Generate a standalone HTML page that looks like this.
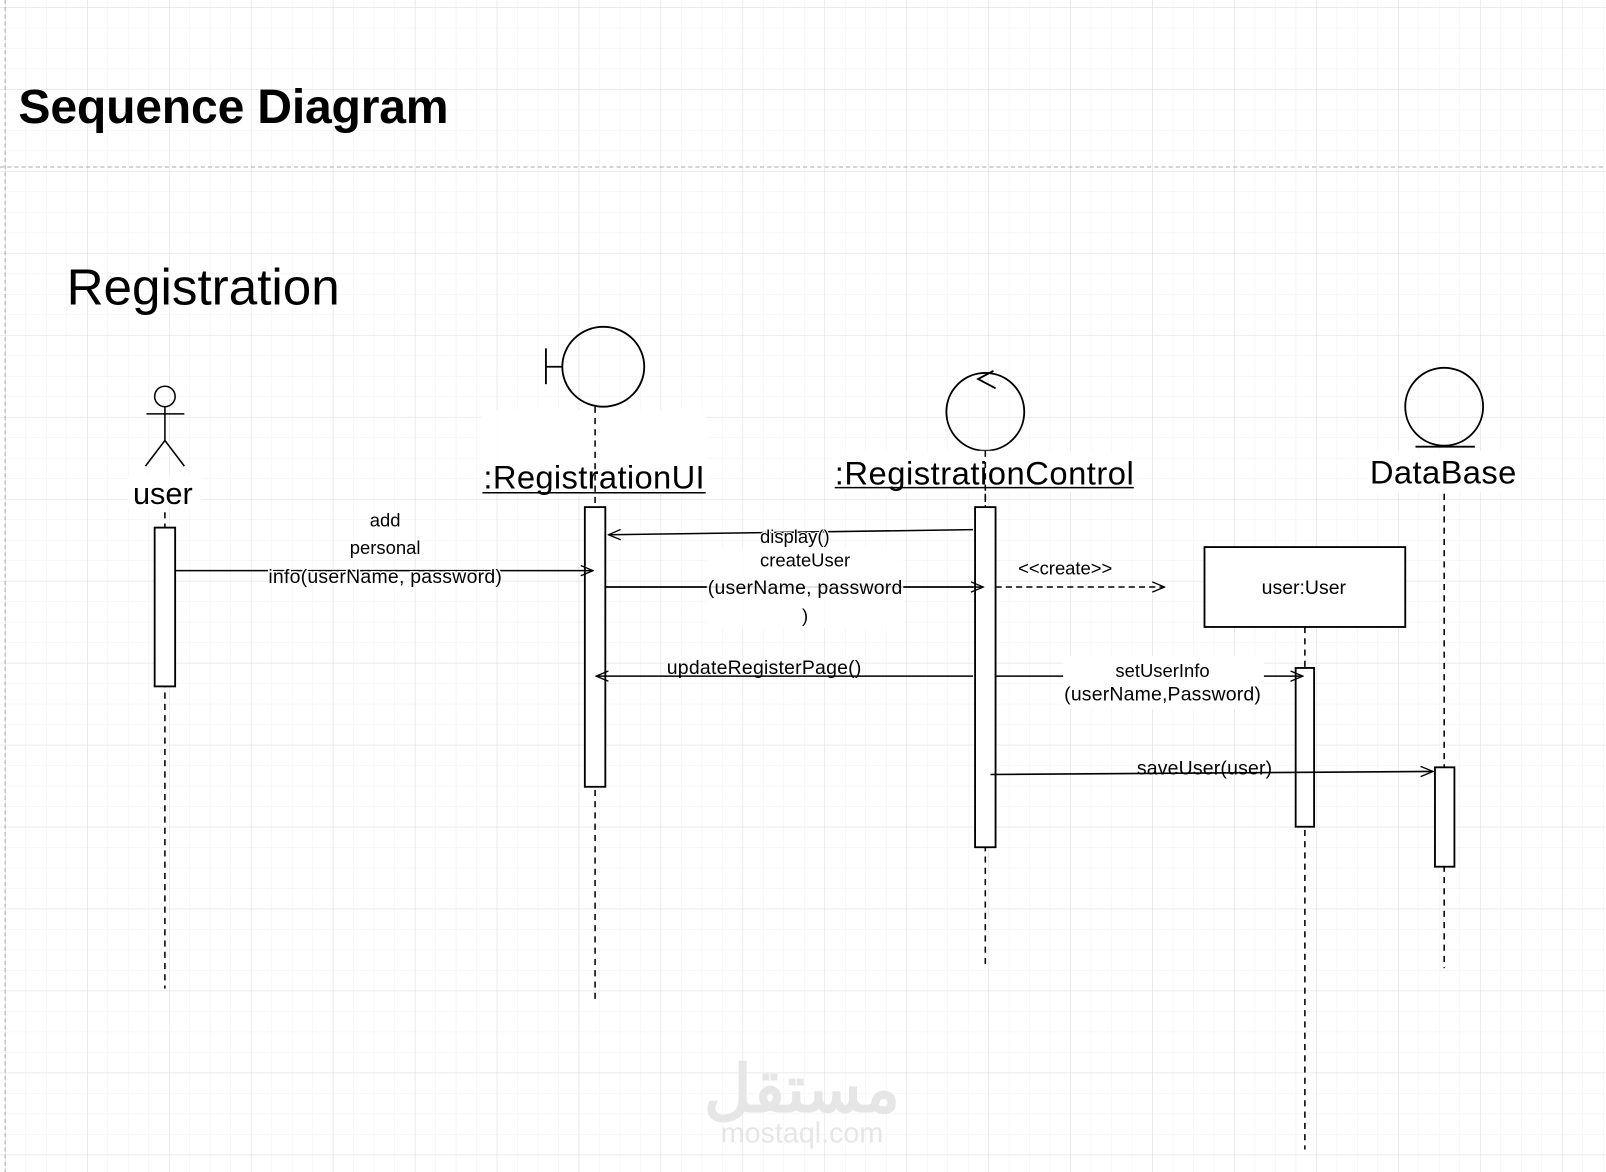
<!DOCTYPE html>
<html><head><meta charset="utf-8"><style>
html,body{margin:0;padding:0;background:#fff;}
svg{display:block;}
text{font-family:"Liberation Sans",Arial,sans-serif;fill:#000;}
</style></head><body>
<svg width="1606" height="1172" viewBox="0 0 1568 1144" preserveAspectRatio="none" xmlns="http://www.w3.org/2000/svg">
<defs>
<pattern id="minor" width="20" height="20" patternUnits="userSpaceOnUse" x="5" y="7">
<path d="M0 0H20M0 0V20" stroke="#f0f0f0" stroke-width="1" fill="none"/>
</pattern>
<pattern id="major" width="80" height="80" patternUnits="userSpaceOnUse" x="5" y="7">
<path d="M0 0H80M0 0V80" stroke="#dddddd" stroke-width="1" fill="none"/>
</pattern>
<marker id="ar" markerWidth="14" markerHeight="12" refX="13" refY="6" orient="auto" markerUnits="userSpaceOnUse">
<path d="M1 1L13 6L1 11" fill="none" stroke="#000" stroke-width="1.3"/>
</marker>
</defs>
<rect width="1568" height="1144" fill="#fff"/>
<rect width="1568" height="1144" fill="url(#minor)"/>
<rect width="1568" height="1144" fill="url(#major)"/>
<line x1="5" y1="0" x2="5" y2="1144" stroke="#aaa" stroke-dasharray="4 3"/>
<line x1="0" y1="163" x2="1568" y2="163" stroke="#aaa" stroke-dasharray="4 3"/>

<text x="18" y="120" font-size="47" font-weight="bold" textLength="420">Sequence Diagram</text>
<text x="65" y="297" font-size="50">Registration</text>

<!-- actor -->
<g stroke="#000" stroke-width="1.5" fill="none">
<circle cx="161" cy="387" r="10"/>
<line x1="161" y1="397" x2="161" y2="430"/>
<line x1="143" y1="404" x2="180" y2="404"/>
<line x1="161" y1="430" x2="142" y2="455"/>
<line x1="161" y1="430" x2="180" y2="455"/>
</g>
<rect x="125" y="464" width="72" height="32" fill="#fff"/>
<text x="159" y="492" font-size="30" text-anchor="middle">user</text>

<!-- boundary -->
<g stroke="#000" stroke-width="1.8" fill="none">
<ellipse cx="589" cy="358" rx="40" ry="39"/>
<line x1="533" y1="340" x2="533" y2="375"/>
<line x1="533" y1="358" x2="549" y2="358"/>
</g>
<rect x="470" y="400" width="220" height="80" fill="#fff" opacity="0.9"/>
<text x="580" y="477" font-size="32" text-anchor="middle" textLength="216">:RegistrationUI</text>
<line x1="471" y1="481" x2="689" y2="481" stroke="#000" stroke-width="1.5"/>

<!-- control -->
<g stroke="#000" stroke-width="1.8" fill="none">
<circle cx="962" cy="402" r="38"/>
<path d="M970 362L955 370L972 379"/>
</g>
<rect x="812" y="440" width="298" height="40" fill="#fff" opacity="0.9"/>
<text x="961" y="473" font-size="32" text-anchor="middle" textLength="292">:RegistrationControl</text>
<line x1="815" y1="476" x2="1107" y2="476" stroke="#000" stroke-width="1.5"/>

<!-- entity -->
<g stroke="#000" stroke-width="1.8" fill="none">
<circle cx="1410" cy="397" r="38"/>
<line x1="1382" y1="436" x2="1440" y2="436"/>
</g>
<rect x="1335" y="440" width="150" height="40" fill="#fff" opacity="0.9"/>
<text x="1409" y="472" font-size="32" text-anchor="middle" textLength="143">DataBase</text>

<!-- lifelines -->
<g stroke="#000" stroke-width="1.5" stroke-dasharray="6 5" fill="none">
<line x1="161" y1="500" x2="161" y2="965"/>
<line x1="581" y1="397" x2="581" y2="978"/>
<line x1="962" y1="440" x2="962" y2="945"/>
<line x1="962" y1="482" x2="962" y2="495"/>
<line x1="1410" y1="482" x2="1410" y2="945"/>
<line x1="1274" y1="612" x2="1274" y2="1122"/>
</g>

<!-- activations -->
<g stroke="#000" stroke-width="1.8" fill="#fff">
<rect x="151" y="515" width="20" height="155"/>
<rect x="571" y="495" width="20" height="273"/>
<rect x="952" y="495" width="20" height="332"/>
<rect x="1265" y="652" width="18" height="155"/>
<rect x="1401" y="749" width="19" height="97"/>
<rect x="1176" y="534" width="196" height="78"/>
</g>
<text x="1273" y="580" font-size="19" text-anchor="middle">user:User</text>

<!-- messages -->
<g stroke="#000" stroke-width="1.5" fill="none">
<line x1="171" y1="557" x2="579" y2="557" marker-end="url(#ar)"/>
<line x1="950" y1="517" x2="594" y2="522" marker-end="url(#ar)"/>
<line x1="591" y1="573" x2="960" y2="573" marker-end="url(#ar)"/>
<line x1="972" y1="573" x2="1137" y2="573" stroke-dasharray="6 4" marker-end="url(#ar)"/>
<line x1="950" y1="660" x2="582" y2="660" marker-end="url(#ar)"/>
<line x1="972" y1="660" x2="1272" y2="660" marker-end="url(#ar)"/>
<line x1="967" y1="756" x2="1399" y2="753" marker-end="url(#ar)"/>
</g>

<!-- labels -->
<text x="376" y="514" font-size="18" text-anchor="middle">add</text>
<text x="376" y="541" font-size="18" text-anchor="middle">personal</text>
<text x="376" y="569" font-size="19" text-anchor="middle" textLength="228" style="paint-order:stroke;stroke:#fff;stroke-width:3px">info(userName, password)</text>

<text x="776" y="530" font-size="18" text-anchor="middle" style="paint-order:stroke;stroke:#fff;stroke-width:2px">display()</text>
<rect x="690" y="535" width="192" height="78" fill="#fff" opacity="0.85"/>
<text x="786" y="553" font-size="18" text-anchor="middle">createUser</text>
<text x="786" y="580" font-size="19" text-anchor="middle" textLength="190">(userName, password</text>
<text x="786" y="607" font-size="18" text-anchor="middle">)</text>
<line x1="591" y1="573" x2="690" y2="573" stroke="#000" stroke-width="1.5"/>
<line x1="882" y1="573" x2="950" y2="573" stroke="#000" stroke-width="1.5"/>

<text x="1040" y="561" font-size="18" text-anchor="middle">&lt;&lt;create&gt;&gt;</text>
<text x="746" y="658" font-size="19" text-anchor="middle" textLength="190">updateRegisterPage()</text>

<rect x="1038" y="640" width="196" height="52" fill="#fff"/>
<text x="1135" y="661" font-size="18" text-anchor="middle">setUserInfo</text>
<text x="1135" y="684" font-size="19" text-anchor="middle" textLength="192">(userName,Password)</text>

<text x="1176" y="756" font-size="19" text-anchor="middle" textLength="132">saveUser(user)</text>

<!-- watermark -->
<text x="783" y="1085" font-size="64" font-weight="bold" text-anchor="middle" style="fill:#e6e6e6" font-family="'Liberation Sans','DejaVu Sans',sans-serif">مستقل</text>
<text x="783" y="1115" font-size="28" text-anchor="middle" style="fill:#e6e6e6">mostaql.com</text>
</svg>
</body></html>
